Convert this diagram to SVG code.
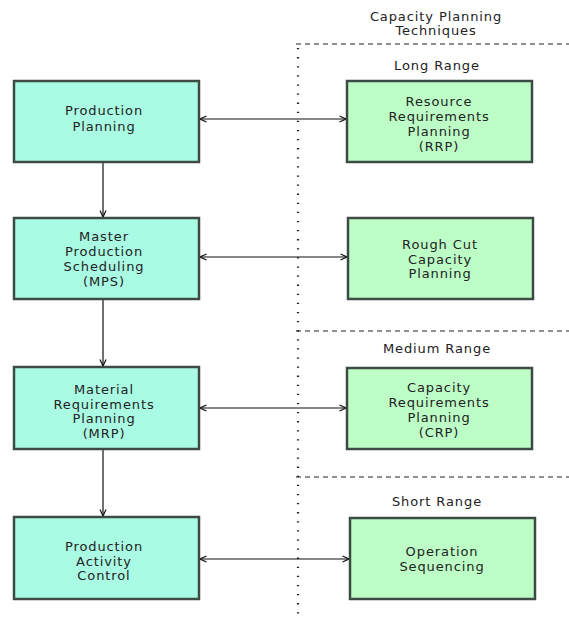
<svg xmlns="http://www.w3.org/2000/svg" width="569" height="617" viewBox="0 0 569 617">
<style>
text{font-family:"DejaVu Sans","Verdana",sans-serif;font-size:13px;letter-spacing:0.9px;fill:#222;text-anchor:middle}
.l{fill:#aafbe3;stroke:#3e4b44;stroke-width:2.5}
.r{fill:#bdfdc6;stroke:#3e4b44;stroke-width:2.5}
.c{stroke:#111;stroke-width:1.2;fill:none}
.dash{stroke:#222;stroke-width:1.2;stroke-dasharray:5 4;fill:none}
.dot{stroke:#222;stroke-width:2.2;stroke-dasharray:1.3 7.8;fill:none}
</style>
<defs>
<marker id="ah" viewBox="0 0 8 8" refX="7.5" refY="4" markerWidth="8" markerHeight="8" markerUnits="userSpaceOnUse" orient="auto-start-reverse">
<path d="M1,1 L7.5,4 L1,7" fill="none" stroke="#111" stroke-width="1.2"/>
</marker>
</defs>
<rect width="569" height="617" fill="#fff"/>
<g id="dividers">
<line class="dot" x1="298" y1="48" x2="298" y2="617"/>
<line class="dash" x1="296" y1="44" x2="569" y2="44"/>
<line class="dash" x1="296" y1="331" x2="569" y2="331"/>
<line class="dash" x1="296" y1="477" x2="569" y2="477"/>
</g>
<g id="labels">
<text x="436" y="21">Capacity Planning</text>
<text x="436" y="35">Techniques</text>
<text x="437" y="70">Long Range</text>
<text x="437" y="353">Medium Range</text>
<text x="437" y="506">Short Range</text>
</g>
<g id="connectors">
<line class="c" x1="200" y1="119" x2="346" y2="119" marker-start="url(#ah)" marker-end="url(#ah)"/>
<line class="c" x1="200" y1="257" x2="347" y2="257" marker-start="url(#ah)" marker-end="url(#ah)"/>
<line class="c" x1="200" y1="408" x2="346" y2="408" marker-start="url(#ah)" marker-end="url(#ah)"/>
<line class="c" x1="200" y1="559" x2="349" y2="559" marker-start="url(#ah)" marker-end="url(#ah)"/>
<line class="c" x1="103" y1="163" x2="103" y2="217" marker-end="url(#ah)"/>
<line class="c" x1="103" y1="300" x2="103" y2="366" marker-end="url(#ah)"/>
<line class="c" x1="103" y1="450" x2="103" y2="516" marker-end="url(#ah)"/>
</g>
<g id="production-planning">
<rect class="l" x="14" y="81" width="185" height="81"/>
<text x="104" y="115">Production</text>
<text x="104" y="131">Planning</text>
</g>
<g id="mps">
<rect class="l" x="14" y="218" width="185" height="81"/>
<text x="104" y="241">Master</text>
<text x="104" y="256">Production</text>
<text x="104" y="271">Scheduling</text>
<text x="104" y="286">(MPS)</text>
</g>
<g id="mrp">
<rect class="l" x="14" y="367" width="185" height="82"/>
<text x="104" y="394">Material</text>
<text x="104" y="409">Requirements</text>
<text x="104" y="423">Planning</text>
<text x="104" y="438">(MRP)</text>
</g>
<g id="pac">
<rect class="l" x="14" y="517" width="185" height="82"/>
<text x="104" y="551">Production</text>
<text x="104" y="566">Activity</text>
<text x="104" y="580">Control</text>
</g>
<g id="rrp">
<rect class="r" x="347" y="81" width="185" height="81"/>
<text x="439" y="106">Resource</text>
<text x="439" y="121">Requirements</text>
<text x="439" y="136">Planning</text>
<text x="439" y="151">(RRP)</text>
</g>
<g id="rough-cut">
<rect class="r" x="348" y="218" width="185" height="81"/>
<text x="440" y="249">Rough Cut</text>
<text x="440" y="264">Capacity</text>
<text x="440" y="278">Planning</text>
</g>
<g id="crp">
<rect class="r" x="347" y="368" width="185" height="81"/>
<text x="439" y="392">Capacity</text>
<text x="439" y="407">Requirements</text>
<text x="439" y="422">Planning</text>
<text x="439" y="437">(CRP)</text>
</g>
<g id="operation-sequencing">
<rect class="r" x="350" y="518" width="185" height="81"/>
<text x="442" y="556">Operation</text>
<text x="442" y="571">Sequencing</text>
</g>
</svg>
